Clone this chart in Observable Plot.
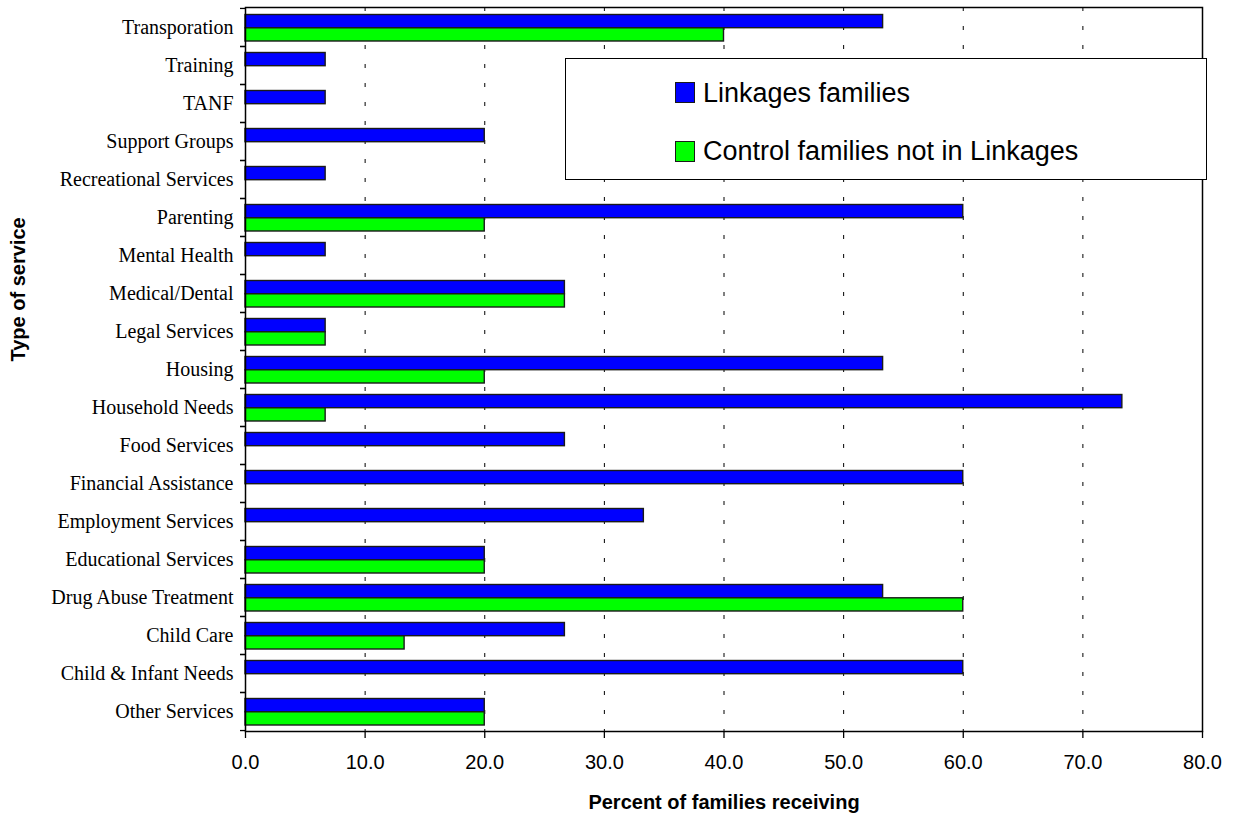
<!DOCTYPE html>
<html>
<head>
<meta charset="utf-8">
<script src="https://cdn.jsdelivr.net/npm/d3@7"></script>
<script src="https://cdn.jsdelivr.net/npm/@observablehq/plot@0.6"></script>
<style>
  body { margin: 0; background: #fff; }
  #wrap { position: relative; width: 1235px; height: 817px; overflow: hidden; }
  #legend {
    position: absolute; left: 565px; top: 58px; width: 640px; height: 120px;
    border: 1.5px solid #000; background: #fff;
    font-family: Arial, "Liberation Sans", sans-serif; font-size: 27px; color: #000;
  }
  .row { position: absolute; left: 109px; height: 30px; line-height: 30px; display: flex; align-items: center; white-space: nowrap; }
  .sw { width: 18px; height: 19px; border: 1.3px solid #1a1a1a; margin-right: 8px; flex: none; }
</style>
</head>
<body>
<div id="wrap"></div>
<script>
// ---- data (top to bottom as in the chart) ----
const categories = [
  "Transporation", "Training", "TANF", "Support Groups", "Recreational Services",
  "Parenting", "Mental Health", "Medical/Dental", "Legal Services", "Housing",
  "Household Needs", "Food Services", "Financial Assistance", "Employment Services",
  "Educational Services", "Drug Abuse Treatment", "Child Care", "Child & Infant Needs",
  "Other Services"
];
const linkagesFamilies = [53.3, 6.7, 6.7, 20.0, 6.7, 60.0, 6.7, 26.7, 6.7, 53.3, 73.3, 26.7, 60.0, 33.3, 20.0, 53.3, 26.7, 60.0, 20.0];
const controlFamilies  = [40.0, 0, 0, 0, 0, 20.0, 0, 26.7, 6.7, 20.0, 6.7, 0, 0, 0, 20.0, 60.0, 13.3, 0, 20.0];
const seriesNames = ["Linkages families", "Control families not in Linkages"];
const seriesColors = ["#0000ff", "#00ff00"];
const xTicks = [0, 10, 20, 30, 40, 50, 60, 70, 80];
const gridTicks = [10, 20, 30, 40, 50, 60, 70];
const xTitle = "Percent of families receiving";
const yTitle = "Type of service";

const rows = categories.map((c, i) => ({cat: c, link: linkagesFamilies[i], ctrl: controlFamilies[i]}));

const W = 1235, H = 817;
const mT = 7, mB = 86, mL = 245, mR = 33;
const step = (H - mT - mB) / categories.length;

const chart = Plot.plot({
  width: W, height: H,
  marginTop: mT, marginBottom: mB, marginLeft: mL, marginRight: mR,
  style: {fontFamily: "Arial, 'Liberation Sans', sans-serif", fontSize: "20px", color: "#000", background: "#fff"},
  x: {domain: [0, 80], label: null},
  y: {domain: categories, padding: 0, label: null},
  marks: [
    Plot.gridX({ticks: gridTicks, stroke: "#000", strokeOpacity: 1, strokeWidth: 1, strokeDasharray: "4,15"}),
    Plot.barX(rows.filter(d => d.link > 0), {y: "cat", x: "link", fill: seriesColors[0], stroke: "#1a1a1a", strokeWidth: 1.4, insetTop: 6.5, insetBottom: 18.3}),
    Plot.barX(rows.filter(d => d.ctrl > 0), {y: "cat", x: "ctrl", fill: seriesColors[1], stroke: "#1a1a1a", strokeWidth: 1.4, insetTop: 19.8, insetBottom: 5}),
    Plot.frame({stroke: "#000", strokeWidth: 1.5}),
    Plot.axisX({ticks: xTicks, tickFormat: d3.format(".1f"), tickSize: 7, tickPadding: 16, label: null, fontSize: 20, strokeWidth: 1.3}),
    Plot.axisY({tickSize: 0, tickPadding: 12, label: null, fontFamily: "'Liberation Serif', 'Times New Roman', serif", fontSize: 20}),
    Plot.axisY({tickSize: 5, tickFormat: () => "", label: null, dy: step / 2, strokeWidth: 1.3}),
    Plot.axisY({tickSize: 5, tickFormat: () => "", label: null, dy: -step / 2, strokeWidth: 1.3}),
    Plot.text([xTitle], {frameAnchor: "bottom", dy: 77, fontWeight: "bold", fontSize: 20, lineAnchor: "bottom"}),
    Plot.text([yTitle], {frameAnchor: "left", dx: -226.5, dy: -8, rotate: -90, fontWeight: "bold", fontSize: 20})
  ]
});

const wrap = document.getElementById("wrap");
wrap.appendChild(chart);

const legend = document.createElement("div");
legend.id = "legend";
const rowTops = [18.5, 77];
seriesNames.forEach((name, i) => {
  const r = document.createElement("div");
  r.className = "row";
  r.style.top = rowTops[i] + "px";
  const sw = document.createElement("span");
  sw.className = "sw";
  sw.style.background = seriesColors[i];
  const t = document.createElement("span");
  t.textContent = name;
  r.appendChild(sw);
  r.appendChild(t);
  legend.appendChild(r);
});
wrap.appendChild(legend);
</script>
</body>
</html>
